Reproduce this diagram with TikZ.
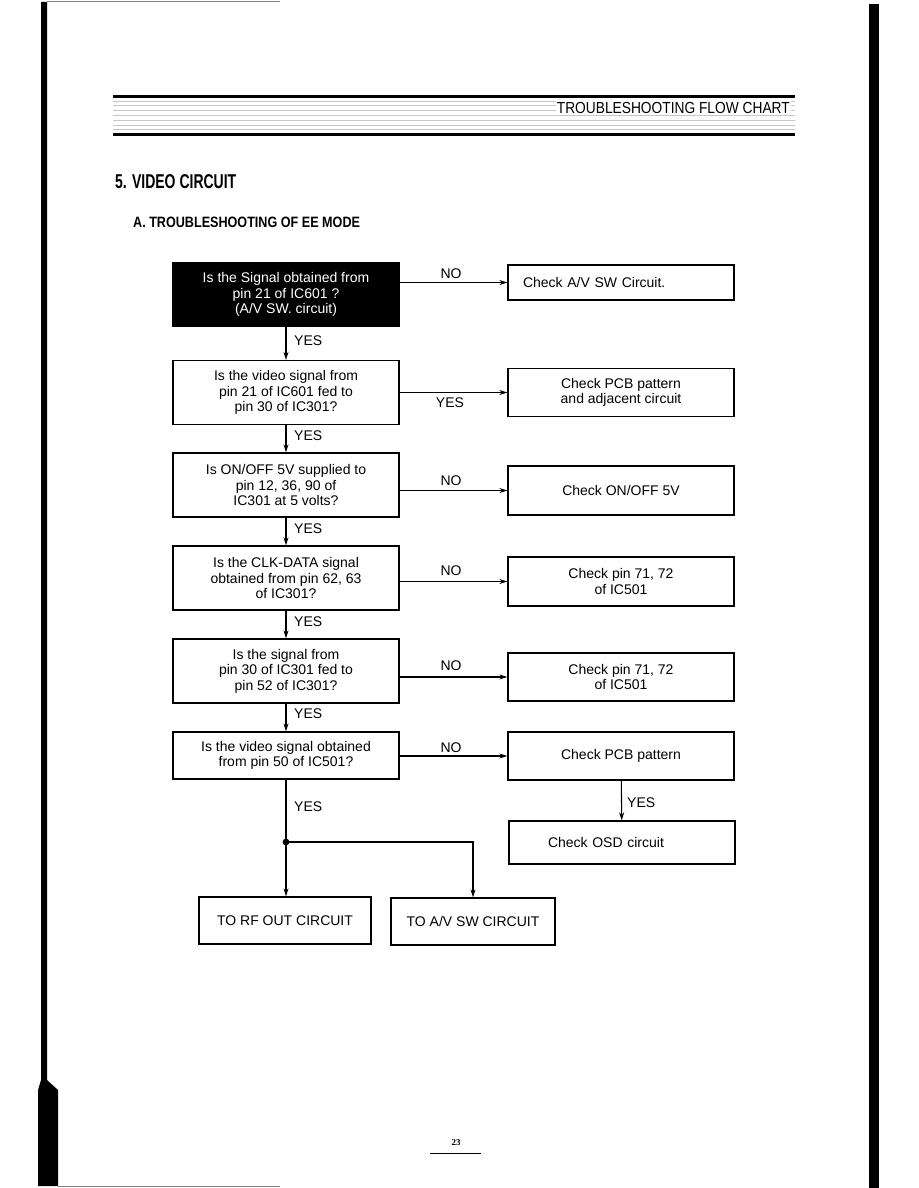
\documentclass[tikz,border=0pt]{standalone}
\usepackage{fontspec}
\setmainfont{Liberation Sans}
\newfontfamily\headfont[FakeStretch=0.7]{Liberation Sans}
\newfontfamily\subfont[FakeStretch=0.84]{Liberation Sans}
\newfontfamily\bannerfont[FakeStretch=0.86]{Liberation Sans}
\newfontfamily\pgfont{Liberation Serif}
\usetikzlibrary{arrows.meta, positioning}
\newcommand{\boxfont}{\fontsize{14}{15.5}\selectfont}
\tikzstyle{qbox} = [rectangle, draw=black, line width=1.3pt, minimum width=226pt, minimum height=64pt, align=center, inner sep=0pt, font=\boxfont]
\tikzstyle{darkbox} = [qbox, fill=black, text=white]
\tikzstyle{chkbox} = [rectangle, draw=black, line width=1.3pt, minimum width=226pt, minimum height=48pt, align=center, inner sep=0pt, font=\boxfont]
\tikzstyle{endbox} = [rectangle, draw=black, line width=1.3pt, minimum height=47pt, inner sep=0pt, font=\boxfont]
\tikzstyle{tag} = [inner sep=0pt, font=\boxfont]
\tikzstyle{arrow} = [line width=1.1pt,->,>={Stealth[length=8pt,width=5pt]}]

\begin{document}
\begin{tikzpicture}[x=1pt, y=-1pt]
    \useasboundingbox (0,0) rectangle (918,1188);

    % page edges of the scan
    \fill (41,2) -- (47,2) -- (47,1080) -- (58,1090) -- (58,1186) -- (38,1186) -- (38,1090) -- (41,1080) -- cycle;
    \fill (869,4) rectangle (879,1188);
    \draw[gray, line width=1pt] (47,2) -- (280,2);
    \draw[gray, line width=1pt] (58,1186) -- (280,1186);

    % banner
    \foreach \y in {101,105,110,115,120,125,129}
        \draw[gray!45, line width=0.5pt] (113,\y) -- (795,\y);
    \draw[line width=3pt] (113,96.5) -- (795,96.5);
    \draw[line width=3pt] (113,134.5) -- (795,134.5);
    \node (banner) [anchor=east, fill=white, inner sep=1pt, font=\bannerfont\fontsize{16}{16}\selectfont] at (791,108) {TROUBLESHOOTING FLOW CHART};

    \node (title) [anchor=west, inner sep=0pt, font=\headfont\bfseries\fontsize{20}{20}\selectfont] at (115,182) {5. VIDEO CIRCUIT};
    \node (subtitle) [anchor=west, inner sep=0pt, font=\subfont\bfseries\fontsize{15}{15}\selectfont] at (133,222) {A. TROUBLESHOOTING OF EE MODE};

    % questions
    \node (q1) [darkbox] at (286,294.5) {Is the Signal obtained from\\pin 21 of IC601 ?\\(A/V SW. circuit)};
    \node (q2) [qbox] at (286,392.5) {Is the video signal from\\pin 21 of IC601 fed to\\pin 30 of IC301?};
    \node (q3) [qbox] at (286,485) {Is ON/OFF 5V supplied to\\pin 12, 36, 90 of\\IC301 at 5 volts?};
    \node (q4) [qbox] at (286,578) {Is the CLK-DATA signal\\obtained from pin 62, 63\\of IC301?};
    \node (q5) [qbox] at (286,671) {Is the signal from\\pin 30 of IC301 fed to\\pin 52 of IC301?};
    \node (q6) [qbox, minimum height=47pt] at (286,755.5) {Is the video signal obtained\\from pin 50 of IC501?};

    % checks
    \node (r1) [chkbox, minimum height=35pt, text width=196pt, align=left] at (621,282.5) {Check A/V SW Circuit.};
    \node (r2) [chkbox] at (621,392.5) {Check PCB pattern\\and adjacent circuit};
    \node (r3) [chkbox, minimum height=49pt] at (621,490.5) {Check ON/OFF 5V};
    \node (r4) [chkbox, minimum height=49pt] at (621,581.5) {Check pin 71, 72\\of IC501};
    \node (r5) [chkbox] at (621,677) {Check pin 71, 72\\of IC501};
    \node (r6) [chkbox] at (621,756) {Check PCB pattern};
    \node (osd) [chkbox, minimum height=43pt, text width=148pt, align=left] at (622,842.5) {Check OSD circuit};

    % outputs
    \node (rf) [endbox, minimum width=172pt] at (285,920.5) {TO RF OUT CIRCUIT};
    \node (av) [endbox, minimum width=164pt] at (473,921.5) {TO A/V SW CIRCUIT};
    \coordinate (split) at (286,842);

    \draw [arrow] (q1) -- (q2);
    \draw [arrow] (q2) -- (q3);
    \draw [arrow] (q3) -- (q4);
    \draw [arrow] (q4) -- (q5);
    \draw [arrow] (q5) -- (q6);
    \draw [arrow] (q1.east |- r1.west) -- (r1.west);
    \draw [arrow] (q2.east) -- (r2.west);
    \draw [arrow] (q3.east |- r3.west) -- (r3.west);
    \draw [arrow] (q4.east |- r4.west) -- (r4.west);
    \draw [arrow] (q5.east |- r5.west) -- (r5.west);
    \draw [arrow] (q6.east |- r6.west) -- (r6.west);
    \draw [arrow] (r6) -- (osd);
    \draw [line width=1.1pt] (q6.south) -- (split);
    \draw [arrow] (split) -- (split |- rf.north);
    \draw [arrow] (split) -| (av.north);
    \fill (split) circle (3.4pt);

    % labels
    \node (yes1) [tag, anchor=west] at (294,341) {YES};
    \node (yes2) [tag, anchor=west] at (294,436) {YES};
    \node (yes3) [tag, anchor=west] at (294,529) {YES};
    \node (yes4) [tag, anchor=west] at (294,622) {YES};
    \node (yes5) [tag, anchor=west] at (294,714) {YES};
    \node (yes6) [tag, anchor=west] at (294,807) {YES};
    \node (yes7) [tag, anchor=west] at (627,803) {YES};
    \node (no1) [tag] at (451,274) {NO};
    \node (yesr) [tag] at (450,403) {YES};
    \node (no3) [tag] at (451,481) {NO};
    \node (no4) [tag] at (451,571) {NO};
    \node (no5) [tag] at (451,666) {NO};
    \node (no6) [tag] at (451,748) {NO};

    % page number
    \node (page) [inner sep=0pt, font=\pgfont\bfseries\fontsize{9}{9}\selectfont] at (456,1143) {23};
    \draw[line width=0.8pt] (430,1153) -- (481,1153);
\end{tikzpicture}
\end{document}
